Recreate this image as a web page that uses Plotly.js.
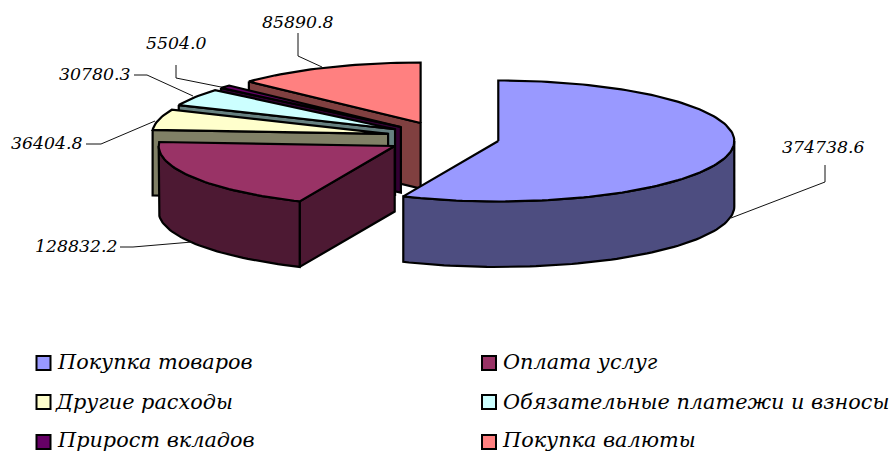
<!DOCTYPE html>
<html>
<head>
<meta charset="utf-8">
<script src="https://cdn.plot.ly/plotly-3.0.0.min.js"></script>
<style>html,body{margin:0;padding:0;background:#fff;overflow:hidden}</style>
</head>
<body>
<div id="chart" style="width:891px;height:452px"></div>
<script>
// Data
var categories = ['Покупка товаров','Оплата услуг','Другие расходы','Обязательные платежи и взносы','Прирост вкладов','Покупка валюты'];
var values = [374738.6,128832.2,36404.8,30780.3,5504.0,85890.8];
var valueTexts = ['374738.6','128832.2','36404.8','30780.3','5504.0','85890.8'];
var topColors = ['#9999FF','#993366','#FFFFCC','#CCFFFF','#660066','#FF8080'];
var sideColors = ['#4D4D80','#4D1933','#808066','#668080','#330033','#804040'];

// Projection of the tilted pie onto the axes (pixel-sized axes)
var CX = 443, CY = 137.7, RX = 236, RY = 60.5, DEPTH = 65.5, PULL_X = 56.5, PULL_Y = 16;
var FONT = 'DejaVu Serif';

// Label placement
var labelPos = [[823,147],[75.5,246],[46.5,143],[94.5,74],[176,43],[297.5,22]];
var leaderX = [[825,825,731],[120,133,192],[86,101,155],[134,147,193],[176,176,221],[298,298,322]];
var leaderY = [[165,182,218],[247,247,242],[144,144,121],[75,75,96],[65,78,87],[33,56,67]];
// Legend placement
var legendX = [43.5,489,43.5,489,43.5,489];
var legendY = [363,363,402,402,442,442];
var legendTextX = [55,501,53,501,55,500];
var legendTextY = [362,362,402,402,440,440];

var total = values.reduce(function(a,b){return a+b;},0);
var rad = Math.PI/180, traces = [], cum = 0;
var wedges = values.map(function(v){
  var s = cum; cum += v/total*360;
  var mid = (s+cum)/2*rad;
  return {s:s, e:cum, ax:CX+PULL_X*Math.sin(mid), ay:CY-PULL_Y*Math.cos(mid)};
});
function pt(w,t){return [w.ax+RX*Math.sin(t*rad), w.ay-RY*Math.cos(t*rad)];}
function poly(xs,ys,fill){
  traces.push({type:'scatter',mode:'lines',x:xs.concat(xs[0]),y:ys.concat(ys[0]),fill:'toself',fillcolor:fill,
    line:{color:'#000',width:2.2},hoverinfo:'skip',showlegend:false});
}
function arc(w,a,b){var r=[],n=Math.max(2,Math.ceil((b-a)/1.5));for(var i=0;i<=n;i++)r.push(pt(w,a+(b-a)*i/n));return r;}

[5,4,3,2,1,0].forEach(function(i){
  var w = wedges[i];
  // radial face below the start edge
  if (Math.sin(w.s*rad) < -1e-6){
    var p = pt(w,w.s);
    poly([p[0],w.ax,w.ax,p[0]],[p[1],w.ay,w.ay+DEPTH,p[1]+DEPTH],sideColors[i]);
  }
  // outer rim
  var a = Math.max(w.s,90), b = Math.min(w.e,270);
  if (b > a){
    var top = arc(w,a,b), bot = top.slice().reverse();
    poly(top.map(function(q){return q[0];}).concat(bot.map(function(q){return q[0];})),
         top.map(function(q){return q[1];}).concat(bot.map(function(q){return q[1]+DEPTH;})),sideColors[i]);
  }
  // top surface
  var t = arc(w,w.s,w.e);
  poly([w.ax].concat(t.map(function(q){return q[0];})),[w.ay].concat(t.map(function(q){return q[1];})),topColors[i]);
});

// leader lines
leaderX.forEach(function(xs,i){
  traces.push({type:'scatter',mode:'lines',x:xs,y:leaderY[i],line:{color:'#111',width:1},hoverinfo:'skip',showlegend:false});
});
// legend swatches
traces.push({type:'scatter',mode:'markers',x:legendX,y:legendY,text:categories,hoverinfo:'text',showlegend:false,
  marker:{symbol:'square',size:14,color:topColors,line:{color:'#000',width:2}}});

var annotations = [];
valueTexts.forEach(function(t,i){
  annotations.push({x:labelPos[i][0],y:labelPos[i][1],xref:'x',yref:'y',text:'<i>'+t+'</i>',showarrow:false,
    xanchor:'center',yanchor:'middle',font:{family:FONT,size:17.3,color:'#000'}});
});
categories.forEach(function(t,i){
  annotations.push({x:legendTextX[i],y:legendTextY[i],xref:'x',yref:'y',text:'<i>'+t+'</i>',showarrow:false,
    xanchor:'left',yanchor:'middle',font:{family:FONT,size:20.8,color:'#000'}});
});

var layout = {
  width:891,height:452,margin:{l:0,r:0,t:0,b:0},paper_bgcolor:'#fff',plot_bgcolor:'#fff',showlegend:false,
  xaxis:{range:[0,891],visible:false,fixedrange:true},
  yaxis:{range:[452,0],visible:false,fixedrange:true},
  annotations:annotations
};
Plotly.newPlot('chart',traces,layout,{displayModeBar:false,staticPlot:true});
</script>
</body>
</html>
